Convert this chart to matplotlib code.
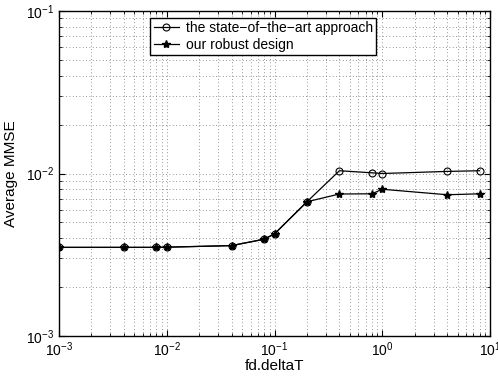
import numpy as np
import matplotlib
matplotlib.use("Agg")
import matplotlib.pyplot as plt

plt.rcParams["font.family"] = ["Liberation Sans", "DejaVu Sans"]
plt.rcParams["mathtext.fontset"] = "custom"
plt.rcParams["mathtext.rm"] = "Liberation Sans"

fd_deltaT = [0.001, 0.004, 0.008, 0.01, 0.04, 0.08, 0.1, 0.2, 0.4, 0.8, 1, 4, 8]
mmse_sota = [0.00351, 0.00351, 0.00351, 0.00352, 0.0036, 0.00394, 0.00425, 0.0067,
             0.0104, 0.0101, 0.0100, 0.0103, 0.0104]
mmse_robust = [0.00351, 0.00351, 0.00351, 0.00352, 0.0036, 0.00394, 0.00425, 0.0067,
               0.00748, 0.0075, 0.0080, 0.0074, 0.0075]

fig = plt.figure(figsize=(4.98, 3.76), dpi=100)
ax = fig.add_axes([0.1185, 0.1064, 0.8655, 0.8643])

ax.loglog(fd_deltaT, mmse_sota, "k-", marker="o", mfc="none", ms=5, lw=0.9,
          mew=0.8, label="the state\u2212of\u2212the\u2212art approach")
ax.loglog(fd_deltaT, mmse_robust, "k-", marker="*", ms=6, lw=0.9,
          label="our robust design")

ax.set_xlim(1e-3, 10)
ax.set_ylim(1e-3, 1e-1)
ax.grid(True, which="both", ls=(0, (1, 3)), color="0.45", lw=0.6)
ax.tick_params(which="both", direction="in", top=True, right=True, labelsize=10)
ax.tick_params(which="major", length=4)
ax.tick_params(which="minor", length=2)
for s in ax.spines.values():
    s.set_linewidth(1.0)

ax.set_xlabel("fd.deltaT", fontsize=11, labelpad=0)
ax.set_ylabel("Average MMSE", fontsize=11, labelpad=6)

leg = ax.legend(loc="upper left", bbox_to_anchor=(0.212, 0.98), fontsize=10,
                fancybox=False, framealpha=1, edgecolor="k", handlelength=1.8,
                borderpad=0.25, labelspacing=0.2, borderaxespad=0, handletextpad=0.5)
leg.get_frame().set_linewidth(1.0)

fig.savefig("out.png", dpi=100)
